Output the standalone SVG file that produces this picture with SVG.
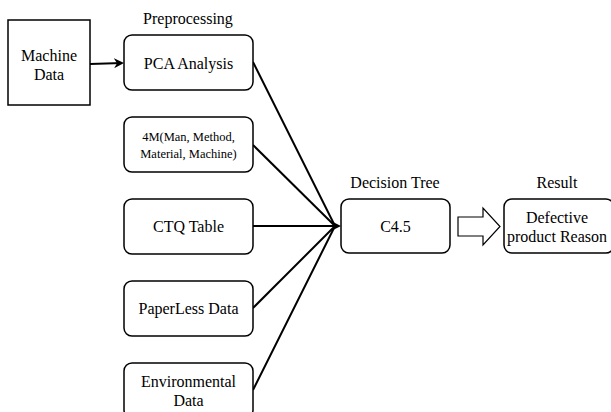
<svg xmlns="http://www.w3.org/2000/svg" width="611" height="412" viewBox="0 0 611 412">
<style>
.b{fill:#fff;stroke:#000;stroke-width:1.5}
text{font-family:'Liberation Serif','Times New Roman','DejaVu Serif',serif;font-size:16px;fill:#000;text-anchor:middle}
text.s{font-size:12.5px}
.c{fill:none;stroke:#000;stroke-width:2}
</style>
<defs>
<marker id="ah" markerWidth="10" markerHeight="10" refX="8" refY="5" orient="auto" markerUnits="userSpaceOnUse">
<path d="M0,0 L10,5 L0,10 L3,5 Z" fill="#000"/>
</marker>
</defs>
<rect width="611" height="412" fill="#fff"/>
<g id="connectors">
<line class="c" x1="90" y1="64" x2="122" y2="63" marker-end="url(#ah)"/>
<line class="c" x1="253" y1="62" x2="335" y2="226"/>
<line class="c" x1="253" y1="145" x2="335" y2="226"/>
<line class="c" x1="253" y1="226" x2="339" y2="226" marker-end="url(#ah)"/>
<line class="c" x1="253" y1="308" x2="335" y2="226"/>
<line class="c" x1="253" y1="390" x2="335" y2="226"/>
<path d="M458,217 L483,217 L483,208 L500,226.5 L483,245 L483,236 L458,236 Z" fill="#fff" stroke="#000" stroke-width="1.2"/>
</g>
<g id="machine"><rect class="b" x="8" y="20" width="82" height="85"/><text x="49" y="61">Machine</text><text x="49" y="80">Data</text></g>
<g id="lbl-pre"><text x="188" y="24">Preprocessing</text></g>
<g id="pca"><rect class="b" x="124" y="35" width="129" height="55" rx="8"/><text x="188.5" y="69">PCA Analysis</text></g>
<g id="m4"><rect class="b" x="124" y="117" width="129" height="55" rx="8"/><text class="s" x="188.5" y="141">4M(Man, Method,</text><text class="s" x="188.5" y="158">Material, Machine)</text></g>
<g id="ctq"><rect class="b" x="124" y="199" width="129" height="55" rx="8"/><text x="188.5" y="232">CTQ Table</text></g>
<g id="paper"><rect class="b" x="124" y="281" width="129" height="55" rx="8"/><text x="188.5" y="314">PaperLess Data</text></g>
<g id="env"><rect class="b" x="124" y="363" width="129" height="55" rx="8"/><text x="188.5" y="387">Environmental</text><text x="188.5" y="406">Data</text></g>
<g id="lbl-dt"><text x="395" y="188">Decision Tree</text></g>
<g id="c45"><rect class="b" x="341" y="199" width="109" height="54" rx="8"/><text x="395.5" y="232">C4.5</text></g>
<g id="lbl-res"><text x="557" y="188">Result</text></g>
<g id="result"><rect class="b" x="504" y="199" width="110" height="54" rx="8"/><text x="557" y="223">Defective</text><text x="557" y="242">product Reason</text></g>
</svg>
